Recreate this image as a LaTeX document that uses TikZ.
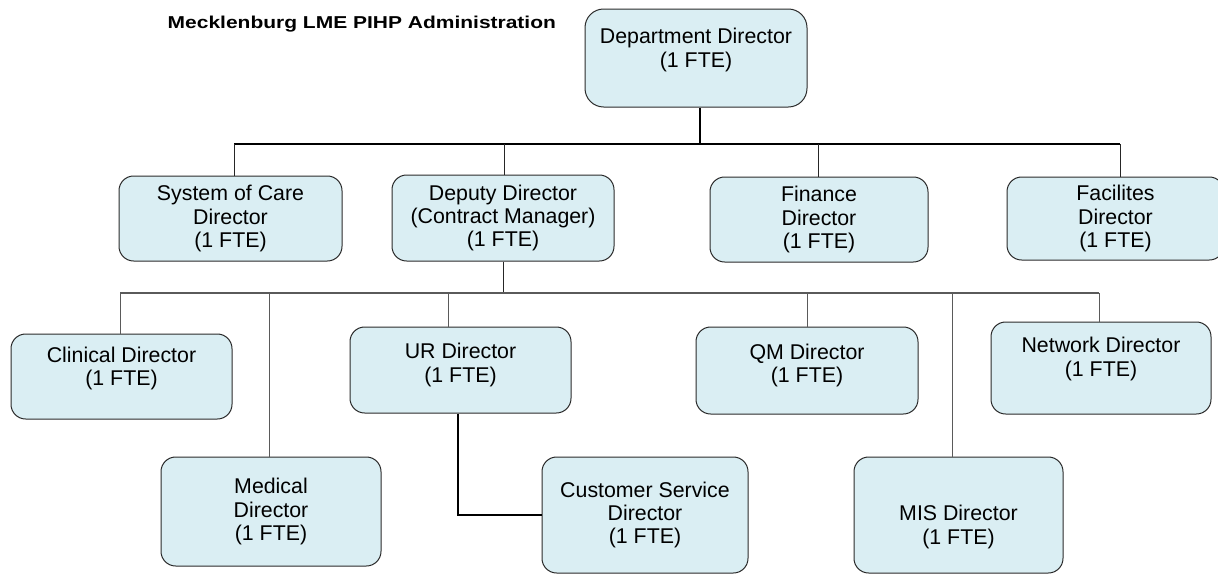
\documentclass[tikz,border=0pt]{standalone}
\usepackage{fontspec}
\setmainfont{Liberation Sans}
\newfontface\titlefont[FakeStretch=1.22]{Liberation Sans Bold}
\usepackage{xcolor}
\definecolor{BoxFill}{HTML}{DAEEF3}
\definecolor{BoxLine}{HTML}{2B2B2B}
\definecolor{BusGray}{HTML}{5A5A5A}
\usetikzlibrary{calc}
\tikzset{
  dims/.style 2 args={minimum width=#1*0.75pt,minimum height=#2*0.75pt},
  bx/.style={draw=BoxLine,fill=BoxFill,line width=0.75pt,rounded corners=11pt,
    inner sep=0pt,align=center,font=\fontsize{16}{17.6}\selectfont},
  lift/.style={text depth=#1},
  sink/.style={text height=#1},
  thk/.style={draw=black,line width=1.5pt},
  thn/.style={draw=black!85,line width=0.75pt},
  bus/.style={draw=BusGray,line width=1.1pt},
}

\begin{document}
\begin{tikzpicture}[x=0.75pt,y=-0.75pt]
\useasboundingbox (0,0) rectangle (1218,575);
\fill[white] (0,0) rectangle (1218,575);

\node[anchor=base west,font=\titlefont\fontsize{12.9}{14}\selectfont] (title)
  at (163,28.5) {Mecklenburg LME PIHP Administration};

% top
\node[bx,dims={222}{98},lift=15.4pt,rounded corners=14pt] (dept) at (696,58)
  {Department Director\\(1 FTE)};

% second row
\node[bx,dims={223}{85}] (sys) at (230.5,218.5) {System of Care\\Director\\(1 FTE)};
\node[bx,dims={222}{86}] (dep) at (503,218) {Deputy Director\\(Contract Manager)\\(1 FTE)};
\node[bx,dims={218}{85}] (fin) at (819,219.5) {Finance\\Director\\(1 FTE)};
\node[bx,dims={217}{83}] (fac) at (1115.5,218.5) {Facilites\\Director\\(1 FTE)};

% third row, upper
\node[bx,dims={221}{85},lift=15.4pt] (clin) at (121.5,376.5) {Clinical Director\\(1 FTE)};
\node[bx,dims={221}{86},lift=10.9pt] (ur) at (460.5,370) {UR Director\\(1 FTE)};
\node[bx,dims={222}{87},lift=10.9pt] (qm) at (807,370.5) {QM Director\\(1 FTE)};
\node[bx,dims={220}{92},lift=16.9pt] (net) at (1101,368) {Network Director\\(1 FTE)};

% third row, lower
\node[bx,dims={220}{109}] (med) at (271,511.5) {Medical\\Director\\(1 FTE)};
\node[bx,dims={206}{116}] (cust) at (645,515) {Customer Service\\Director\\(1 FTE)};
\node[bx,dims={209}{116},sink=47pt] (mis) at (958.5,515) {MIS Director\\(1 FTE)};

\coordinate (bus1) at (0,144);
\coordinate (bus2) at (0,293);

% drop points (a few are off centre)
\foreach \n/\dx in {dept/4,sys/3.5,dep/1,fin/-1,fac/4.5}
  \coordinate (d\n) at ([xshift=\dx*0.75pt]\n.north);
\foreach \n/\dx in {clin/-1.5,med/-2,ur/-12.5,qm/0,mis/-6.5,net/-2}
  \coordinate (d\n) at ([xshift=\dx*0.75pt]\n.north);
\coordinate (ddept) at ([xshift=3pt]dept.south);

\draw[thk] (ddept) -- (ddept |- bus1);
\draw[thk] (dsys |- bus1) -- (dfac |- bus1);
\foreach \n in {sys,dep,fin,fac}
  \draw[thn] (d\n |- bus1) -- (d\n);

\draw[thn] (dep.south) -- (dep.south |- bus2);
\draw[bus] (dclin |- bus2) -- (dnet |- bus2);
\foreach \n in {clin,med,ur,qm,mis,net}
  \draw[thn,draw=BusGray] (d\n |- bus2) -- (d\n);

\draw[thk] ([xshift=-2pt]ur.south) |- (cust.west);
\end{tikzpicture}
\end{document}
